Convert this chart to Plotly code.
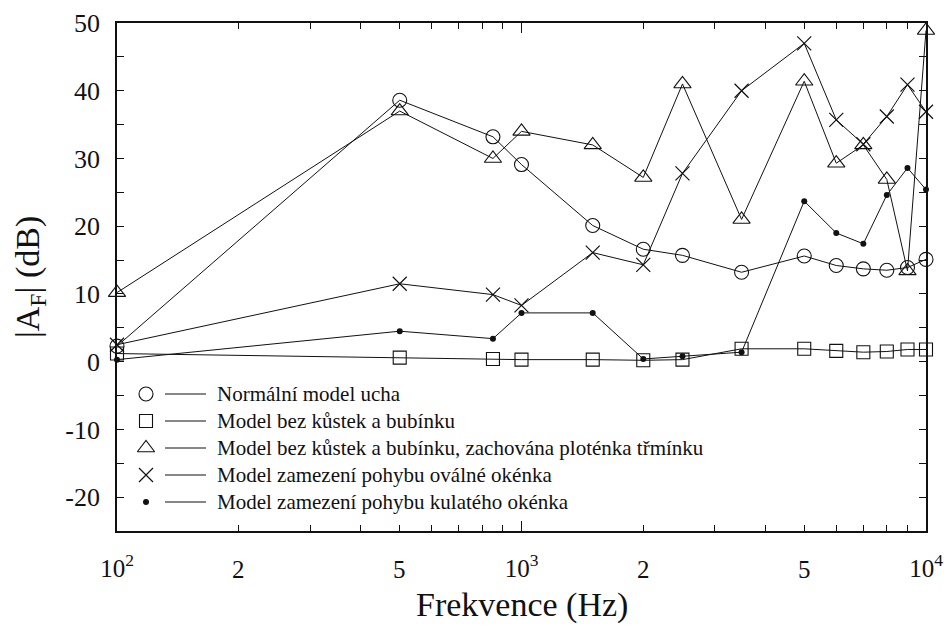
import numpy as np
import plotly.graph_objects as go

# Frequency points (Hz)
freq = [100, 500, 850, 1000, 1500, 2000, 2500, 3500, 5000, 6000, 7000, 8000, 9000, 10000]

# |A_F| in dB for each model
normal_model = [2.3, 38.6, 33.2, 29.1, 20.1, 16.6, 15.7, 13.2, 15.6, 14.2, 13.7, 13.5, 13.9, 15.1]
no_ossicles = [1.2, 0.6, 0.4, 0.3, 0.3, 0.2, 0.3, 1.9, 1.9, 1.6, 1.4, 1.5, 1.8, 1.8]
stapes_plate = [10.2, 37.0, 30.0, 34.0, 32.0, 27.2, 41.0, 21.0, 41.4, 29.3, 32.0, 26.9, 13.4, 48.9]
oval_fixed = [2.5, 11.5, 9.9, 8.3, 16.1, 14.3, 27.8, 40.0, 47.0, 35.7, 32.1, 36.2, 40.9, 36.9]
round_fixed = [0.3, 4.5, 3.4, 7.2, 7.2, 0.4, 0.8, 1.4, 23.7, 19.0, 17.4, 24.6, 28.6, 25.4]

series_names = [
    "Normální model ucha",
    "Model bez kůstek a bubínku",
    "Model bez kůstek a bubínku, zachována ploténka třmínku",
    "Model zamezení pohybu oválné okénka",
    "Model zamezení pohybu kulatého okénka",
]

# x tick labels
decade_vals = [100, 1000, 10000]
decade_text = ["10<sup>2</sup>", "10<sup>3</sup>", "10<sup>4</sup>"]
minor_label_vals = [200, 500, 2000, 5000]
minor_label_text = ["2", "5", "2", "5"]

FONT = "Liberation Serif"
INK = "#111111"

W, H = 948, 627
L, R, T, B = 117, 22, 23, 96
PW, PH = W - L - R, H - T - B


def px_x(p):
    return (p - L) / PW


def px_y(p):
    return (H - B - p) / PH


styles = [
    dict(symbol="circle-open", size=14, line=dict(width=1.1, color=INK)),
    dict(symbol="square-open", size=13, line=dict(width=1.1, color=INK)),
    dict(symbol="triangle-up-open", size=15, line=dict(width=1.1, color=INK)),
    dict(symbol="x-thin-open", size=14, line=dict(width=1.2, color=INK)),
    dict(symbol="circle", size=6, color=INK, line=dict(width=0, color=INK)),
]
all_series = [normal_model, no_ossicles, stapes_plate, oval_fixed, round_fixed]

fig = go.Figure()

for name, ys, st in zip(series_names, all_series, styles):
    mk = dict(st)
    if "color" not in mk:
        mk["color"] = INK
    fig.add_trace(go.Scatter(
        x=freq, y=ys, mode="lines+markers", name=name,
        line=dict(color=INK, width=1),
        marker=mk, showlegend=False, cliponaxis=False,
    ))

# Key: marker, short line, label (drawn on an overlay axis spanning the plot area)
key_rows = [394, 421, 448, 475, 502]
for name, st, ry in zip(series_names, styles, key_rows):
    mk = dict(st)
    if "color" not in mk:
        mk["color"] = INK
    fig.add_trace(go.Scatter(
        x=[px_x(146)], y=[px_y(ry)], mode="markers", marker=mk,
        xaxis="x2", yaxis="y2", showlegend=False, hoverinfo="skip",
    ))
    fig.add_trace(go.Scatter(
        x=[px_x(165), px_x(206)], y=[px_y(ry), px_y(ry)], mode="lines",
        line=dict(color=INK, width=1),
        xaxis="x2", yaxis="y2", showlegend=False, hoverinfo="skip",
    ))
    fig.add_annotation(
        x=px_x(215), y=px_y(ry), xref="paper", yref="paper",
        text=name, showarrow=False, xanchor="left", yanchor="middle",
        font=dict(family=FONT, size=21, color=INK),
    )

# "2" and "5" labels under the decade subdivisions
for v, t in zip(minor_label_vals, minor_label_text):
    fig.add_annotation(
        x=np.log10(v), y=px_y(569), xref="x", yref="paper",
        text=t, showarrow=False, xanchor="center", yanchor="middle",
        font=dict(family=FONT, size=25, color=INK),
    )

# Axis titles
fig.add_annotation(
    x=px_x(522), y=px_y(605), xref="paper", yref="paper",
    text="Frekvence (Hz)", showarrow=False, xanchor="center", yanchor="middle",
    font=dict(family=FONT, size=34, color=INK),
)
fig.add_annotation(
    x=px_x(30), y=px_y(277), xref="paper", yref="paper",
    text="|A<sub>F</sub>| (dB)", showarrow=False, textangle=-90,
    xanchor="center", yanchor="middle",
    font=dict(family=FONT, size=34, color=INK),
)

minor_x = [m * d for d in (100, 1000) for m in range(2, 10)]

fig.update_layout(
    width=W, height=H,
    margin=dict(l=L, r=R, t=T, b=B, autoexpand=False),
    paper_bgcolor="white", plot_bgcolor="white",
    font=dict(family=FONT, color=INK),
    xaxis=dict(
        type="log", range=[2, 4],
        tickvals=decade_vals, ticktext=decade_text,
        ticks="inside", ticklen=10, tickwidth=1.2, tickcolor=INK,
        minor=dict(tickvals=minor_x, ticks="inside", ticklen=6,
                   tickwidth=1.2, tickcolor=INK, showgrid=False),
        showline=True, linecolor=INK, linewidth=1.6, mirror="ticks",
        showgrid=False, zeroline=False,
        tickfont=dict(family=FONT, size=25, color=INK),
        ticklabelstandoff=14,
    ),
    yaxis=dict(
        range=[-25, 50],
        tickvals=[-20, -10, 0, 10, 20, 30, 40, 50],
        ticktext=["-20", "-10", "0", "10", "20", "30", "40", "50"],
        ticks="inside", ticklen=7, tickwidth=1.2, tickcolor=INK,
        minor=dict(tickvals=[-15, -5, 5, 15, 25, 35, 45], ticks="inside",
                   ticklen=7, tickwidth=1.2, tickcolor=INK, showgrid=False),
        showline=True, linecolor=INK, linewidth=1.6, mirror="ticks",
        showgrid=False, zeroline=False,
        tickfont=dict(family=FONT, size=26, color=INK),
        ticklabelstandoff=10,
    ),
    xaxis2=dict(overlaying="x", range=[0, 1], visible=False, domain=[0, 1]),
    yaxis2=dict(overlaying="y", range=[0, 1], visible=False, domain=[0, 1]),
    showlegend=False,
)

fig.write_html("out.html")
